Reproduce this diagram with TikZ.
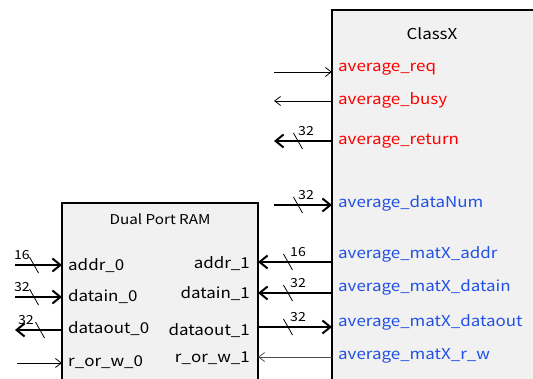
\documentclass[tikz,border=0pt]{standalone}
\usepackage{fontspec}
\setmainfont[FakeStretch=1.13]{Noto Sans CJK JP}
\usetikzlibrary{arrows.meta, positioning}
\definecolor{blockfill}{RGB}{241,241,241}
\definecolor{ctrlred}{RGB}{255,0,0}
\definecolor{datablue}{RGB}{32,80,230}

\tikzset{
    block/.style={draw, fill=blockfill, line width=1.2pt},
    pinlabel/.style={inner sep=0pt, font=\fontsize{15}{15}\selectfont},
    sig/.style={line width=0.8pt, -{Straight Barb[length=6pt, width=9pt]}},
    bus/.style={line width=2pt, -{Straight Barb[length=8pt, width=13pt, line width=2pt]}},
    widthlabel/.style={inner sep=0pt, font=\fontsize{12.5}{12.5}\selectfont}
}

% slash across a bus with its width written next to it
\newcommand{\busmark}[3]{%
    \draw[line width=0.8pt] (#1) ++(-4.5,-8) -- ++(9,16);
    \node[widthlabel, #3] at (#1) {#2};
}

\begin{document}
\begin{tikzpicture}[x=1pt, y=-1pt]
    \clip (0,0) rectangle (533,379);

    % the two blocks
    \draw[block] (332,10) rectangle (560,400);
    \node[font=\fontsize{15}{15}\selectfont] (classx) at (432,34) {ClassX};
    \draw[block] (62,203) rectangle (258,400);
    \node[font=\fontsize{13.5}{13.5}\selectfont] (ram) at (160,219) {Dual Port RAM};

    % ClassX pins
    \node[pinlabel, anchor=west, text=ctrlred] (req) at (338,69) {average\_req};
    \node[pinlabel, anchor=west, text=ctrlred] (busy) at (338,100) {average\_busy};
    \node[pinlabel, anchor=west, text=ctrlred] (ret) at (338,141) {average\_return};
    \node[pinlabel, anchor=west, text=datablue] (num) at (338,203) {average\_dataNum};
    \node[pinlabel, anchor=west, text=datablue] (maddr) at (338,254) {average\_matX\_addr};
    \node[pinlabel, anchor=west, text=datablue] (mdin) at (338,287) {average\_matX\_datain};
    \node[pinlabel, anchor=west, text=datablue] (mdout) at (338,322) {average\_matX\_dataout};
    \node[pinlabel, anchor=west, text=datablue] (mrw) at (338,356) {average\_matX\_r\_w};

    % RAM pins, port 0
    \node[pinlabel, anchor=west] (addr0) at (68,266) {addr\_0};
    \node[pinlabel, anchor=west] (din0) at (68,297) {datain\_0};
    \node[pinlabel, anchor=west] (dout0) at (68,329) {dataout\_0};
    \node[pinlabel, anchor=west] (rw0) at (68,362) {r\_or\_w\_0};

    % RAM pins, port 1
    \node[pinlabel, anchor=east] (addr1) at (250,264) {addr\_1};
    \node[pinlabel, anchor=east] (din1) at (250,294) {datain\_1};
    \node[pinlabel, anchor=east] (dout1) at (250,331) {dataout\_1};
    \node[pinlabel, anchor=east] (rw1) at (250,358) {r\_or\_w\_1};

    % pin points on the block edges
    \coordinate (reqpin) at (332,72);
    \coordinate (busypin) at (332,101);
    \coordinate (retpin) at (332,141);
    \coordinate (numpin) at (332,205);
    \coordinate (maddrpin) at (332,262);
    \coordinate (mdinpin) at (332,293);
    \coordinate (mdoutpin) at (332,327);
    \coordinate (mrwpin) at (332,357);
    \coordinate (addr1pin) at (258,262);
    \coordinate (din1pin) at (258,293);
    \coordinate (dout1pin) at (258,327);
    \coordinate (rw1pin) at (258,357);
    \coordinate (addr0pin) at (62,265);
    \coordinate (din0pin) at (62,297);
    \coordinate (dout0pin) at (62,330);
    \coordinate (rw0pin) at (62,363);

    % free ends
    \coordinate (reqin) at (274,72);
    \coordinate (busyout) at (274,101);
    \coordinate (retout) at (274,141);
    \coordinate (numin) at (274,205);
    \coordinate (addr0in) at (15,265);
    \coordinate (din0in) at (15,297);
    \coordinate (dout0out) at (15,330);
    \coordinate (rw0in) at (17,363);

    % ClassX outside signals
    \draw[sig] (reqin) -- (reqpin);
    \draw[sig] (busypin) -- (busyout);
    \draw[bus] (retpin) -- (retout);
    \draw[bus] (numin) -- (numpin);
    \busmark{298,141}{32}{anchor=south west, yshift=5pt}
    \busmark{298,205}{32}{anchor=south west, yshift=5pt}

    % ClassX <-> RAM port 1
    \draw[bus] (maddrpin) -- (addr1pin);
    \draw[bus] (mdinpin) -- (din1pin);
    \draw[bus] (dout1pin) -- (mdoutpin);
    \draw[sig, draw=black!70] (mrwpin) -- (rw1pin);
    \busmark{288,262}{16}{anchor=south west, xshift=2pt, yshift=5pt}
    \busmark{288,293}{32}{anchor=south west, xshift=2pt, yshift=5pt}
    \busmark{288,327}{32}{anchor=south west, xshift=2pt, yshift=5pt}

    % RAM port 0
    \draw[bus] (addr0in) -- (addr0pin);
    \draw[bus] (din0in) -- (din0pin);
    \draw[bus] (dout0pin) -- (dout0out);
    \draw[sig] (rw0in) -- (rw0pin);
    \busmark{34,265}{16}{anchor=south east, xshift=-4pt, yshift=5pt}
    \busmark{34,297}{32}{anchor=south east, xshift=-4pt, yshift=5pt}
    \busmark{40,330}{32}{anchor=south east, xshift=-6pt, yshift=5pt}
\end{tikzpicture}
\end{document}
